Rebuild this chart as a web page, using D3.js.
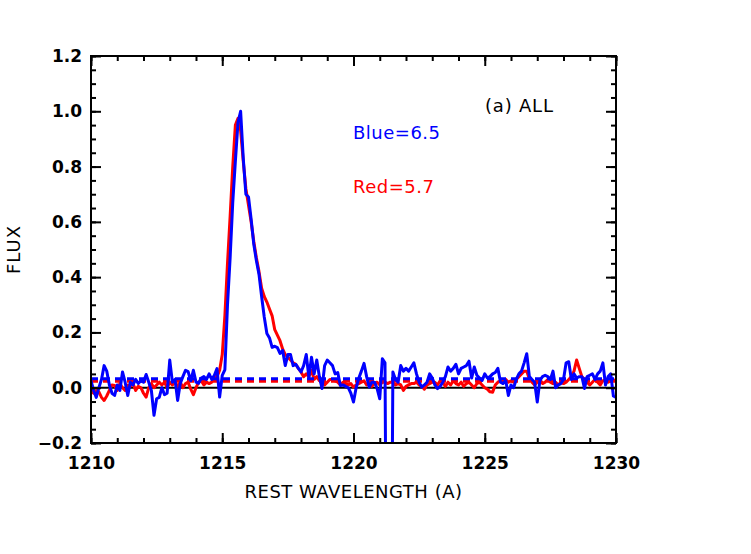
<!DOCTYPE html>
<html>
<head>
<meta charset="utf-8">
<script src="https://cdn.jsdelivr.net/npm/d3@7"></script>
<style>
  body { margin: 0; background: #fff; }
  text { font-family: "DejaVu Sans", sans-serif; }
</style>
</head>
<body>
<div id="chart"></div>
<script>
// wavelength grid of the stacked spectra (0.1 A sampling)
var wave = d3.range(0, 201).map(function(i) { return +(1210 + i * 0.1).toFixed(1); });

// blue sample, normalised flux
var blueFlux = [
  0.026, -0.01, -0.035, 0.0, 0.03, 0.08, 0.06, 0.01, -0.02, -0.028,
  0.01, -0.01, 0.057, 0.02, -0.028, 0.02, 0.01, 0.03, 0.015, 0.025,
  0.02, 0.048, 0.02, -0.01, -0.1, -0.04, -0.035, 0.0, -0.025, -0.02,
  0.1, 0.02, 0.03, -0.046, 0.015, 0.04, 0.063, 0.058, 0.025, 0.063,
  0.02, 0.016, 0.035, 0.04, 0.03, 0.05, 0.03, 0.045, 0.069, -0.034,
  0.045, 0.065, 0.3, 0.47, 0.67, 0.82, 0.96, 1.0, 0.83, 0.70,
  0.69, 0.61, 0.52, 0.46, 0.41, 0.33, 0.256, 0.196, 0.18, 0.146,
  0.15, 0.145, 0.124, 0.135, 0.08, 0.12, 0.12, 0.08, 0.085, 0.07,
  0.057, 0.08, 0.12, 0.038, 0.11, 0.05, 0.1, 0.04, -0.003, 0.08,
  0.1, 0.09, 0.08, 0.05, 0.055, 0.008, 0.01, 0.005, 0.0, -0.02,
  -0.052, 0.0, 0.034, 0.06, 0.088, 0.04, 0.002, 0.02, 0.02, -0.003,
  -0.04, 0.105, 0.09, -1.5, -1.5, 0.057, 0.03, 0.02, 0.08, 0.06,
  0.07, 0.06, 0.075, 0.09, 0.05, 0.02, 0.002, 0.01, 0.02, 0.05,
  0.035, 0.01, -0.003, 0.005, 0.02, 0.04, 0.075, 0.06, 0.07, 0.085,
  0.05, 0.07, 0.075, 0.08, 0.096, 0.035, 0.075, 0.045, 0.035, 0.026,
  0.05, 0.035, 0.04, 0.05, 0.055, 0.07, 0.02, 0.015, 0.026, -0.028,
  0.01, 0.0, 0.03, 0.05, 0.06, 0.09, 0.123, 0.04, 0.03, 0.02,
  -0.052, 0.026, 0.04, 0.045, 0.04, 0.03, 0.06, 0.0, 0.01, 0.015,
  0.03, 0.09, 0.094, 0.03, 0.05, 0.035, 0.04, 0.04, -0.003, 0.04,
  0.045, 0.05, 0.03, 0.05, 0.06, 0.09, 0.01, 0.04, 0.05, -0.03,
  -0.035
];

// red sample, normalised flux
var redFlux = [
  -0.01, -0.02, -0.01, -0.015, -0.035, -0.046, -0.03, -0.01, 0.01, 0.008,
  -0.01, 0.015, 0.0, -0.01, 0.01, 0.005, 0.015, -0.01, 0.005, 0.0,
  -0.02, -0.034, 0.0, 0.015, 0.0, 0.01, 0.02, 0.01, 0.02, 0.0,
  0.02, 0.01, 0.02, 0.005, 0.02, 0.0, 0.015, 0.02, -0.005, -0.025,
  0.0, 0.02, 0.025, 0.01, 0.02, 0.015, 0.02, 0.04, 0.04, 0.063,
  0.12, 0.26, 0.45, 0.62, 0.80, 0.95, 0.975, 0.93, 0.82, 0.72,
  0.66, 0.60, 0.53, 0.47, 0.42, 0.36, 0.33, 0.31, 0.285, 0.26,
  0.21, 0.19, 0.17, 0.14, 0.12, 0.11, 0.10, 0.09, 0.085, 0.07,
  0.057, 0.04, 0.05, 0.04, 0.063, 0.03, 0.04, 0.025, 0.03, 0.01,
  0.02, 0.03, 0.03, 0.025, 0.02, 0.01, 0.02, 0.015, 0.01, 0.015,
  0.002, 0.01, 0.015, 0.02, 0.025, 0.01, 0.02, 0.005, 0.015, 0.02,
  0.01, 0.02, 0.02, 0.015, 0.02, 0.02, 0.01, 0.015, 0.01, -0.01,
  0.005, 0.01, 0.015, 0.015, 0.02, 0.01, 0.005, -0.005, 0.01, 0.015,
  0.02, 0.02, 0.01, 0.025, 0.02, 0.005, 0.02, 0.01, 0.025, 0.015,
  0.01, 0.02, 0.005, 0.015, 0.02, 0.01, 0.0, 0.015, 0.02, 0.01,
  0.0, -0.005, -0.015, -0.016, 0.01, 0.02, 0.025, 0.02, 0.03, 0.02,
  0.025, 0.02, 0.03, 0.04, 0.05, 0.06, 0.06, 0.03, 0.02, 0.01,
  0.02, 0.03, 0.015, 0.02, 0.03, 0.02, 0.015, 0.02, 0.01, 0.02,
  0.015, 0.02, 0.03, 0.04, 0.06, 0.1, 0.07, 0.04, 0.03, 0.02,
  0.01, 0.02, 0.03, 0.02, 0.01, 0.025, 0.03, 0.02, 0.025, 0.03,
  0.02
];

// continuum levels (dashed)
var blueCont = 0.032, redCont = 0.023;

var xTicks = [1210, 1215, 1220, 1225, 1230];
var yTicks = [-0.2, 0.0, 0.2, 0.4, 0.6, 0.8, 1.0, 1.2];

var width = 751, height = 554;
var margin = {top: 56, right: 135, bottom: 111, left: 91};

var svg = d3.select("#chart").append("svg")
    .attr("width", width)
    .attr("height", height);

var x = d3.scaleLinear().domain([1210, 1230]).range([margin.left, width - margin.right]);
var y = d3.scaleLinear().domain([-0.2, 1.2]).range([height - margin.bottom, margin.top]);

svg.append("clipPath").attr("id", "clip")
  .append("rect")
    .attr("x", x(1210)).attr("y", y(1.2))
    .attr("width", x(1230) - x(1210)).attr("height", y(-0.2) - y(1.2));

var plot = svg.append("g").attr("clip-path", "url(#clip)");

// zero line
plot.append("line")
    .attr("x1", x(1210)).attr("x2", x(1230))
    .attr("y1", y(0)).attr("y2", y(0))
    .attr("stroke", "#000").attr("stroke-width", 2);

var line = d3.line()
    .x(function(d) { return x(d[0]); })
    .y(function(d) { return y(d[1]); });

var red = wave.map(function(w, i) { return [w, redFlux[i]]; });
var blue = wave.map(function(w, i) { return [w, blueFlux[i]]; });

plot.append("line")
    .attr("x1", x(1210)).attr("x2", x(1230))
    .attr("y1", y(redCont)).attr("y2", y(redCont))
    .attr("stroke", "#ff0000").attr("stroke-width", 3)
    .attr("stroke-dasharray", "7,5");

plot.append("path").datum(red)
    .attr("d", line)
    .attr("fill", "none").attr("stroke", "#ff0000")
    .attr("stroke-width", 3).attr("stroke-linejoin", "round");

plot.append("line")
    .attr("x1", x(1210)).attr("x2", x(1230))
    .attr("y1", y(blueCont)).attr("y2", y(blueCont))
    .attr("stroke", "#0000ff").attr("stroke-width", 3)
    .attr("stroke-dasharray", "7,5");

plot.append("path").datum(blue)
    .attr("d", line)
    .attr("fill", "none").attr("stroke", "#0000ff")
    .attr("stroke-width", 3).attr("stroke-linejoin", "round");

// axes: IDL style, ticks inside on all four sides
var xMinor = d3.range(1210, 1231, 1);
var yMinor = d3.range(-0.2, 1.2001, 0.05);

function axisStyle(g) {
  g.select(".domain").remove();
  g.selectAll(".tick line").attr("stroke", "#000").attr("stroke-width", 2);
}

svg.append("g")
    .attr("transform", "translate(0," + y(-0.2) + ")")
    .call(d3.axisBottom(x).tickValues(xMinor).tickSize(-5).tickFormat(""))
    .call(axisStyle);
svg.append("g")
    .attr("transform", "translate(0," + y(-0.2) + ")")
    .call(d3.axisBottom(x).tickValues(xTicks).tickSize(-10).tickPadding(14).tickFormat(d3.format("d")))
    .call(axisStyle)
    .selectAll("text").attr("font-size", 17).attr("fill", "#000").attr("font-weight", "bold");
svg.append("g")
    .attr("transform", "translate(0," + y(1.2) + ")")
    .call(d3.axisTop(x).tickValues(xMinor).tickSize(-5).tickFormat(""))
    .call(axisStyle);
svg.append("g")
    .attr("transform", "translate(0," + y(1.2) + ")")
    .call(d3.axisTop(x).tickValues(xTicks).tickSize(-10).tickFormat(""))
    .call(axisStyle);

svg.append("g")
    .attr("transform", "translate(" + x(1210) + ",0)")
    .call(d3.axisLeft(y).tickValues(yMinor).tickSize(-5).tickFormat(""))
    .call(axisStyle);
svg.append("g")
    .attr("transform", "translate(" + x(1210) + ",0)")
    .call(d3.axisLeft(y).tickValues(yTicks).tickSize(-10).tickPadding(9).tickFormat(d3.format(".1f")))
    .call(axisStyle)
    .selectAll("text").attr("font-size", 17).attr("fill", "#000").attr("font-weight", "bold");
svg.append("g")
    .attr("transform", "translate(" + x(1230) + ",0)")
    .call(d3.axisRight(y).tickValues(yMinor).tickSize(-5).tickFormat(""))
    .call(axisStyle);
svg.append("g")
    .attr("transform", "translate(" + x(1230) + ",0)")
    .call(d3.axisRight(y).tickValues(yTicks).tickSize(-10).tickFormat(""))
    .call(axisStyle);

// frame
svg.append("rect")
    .attr("x", x(1210)).attr("y", y(1.2))
    .attr("width", x(1230) - x(1210)).attr("height", y(-0.2) - y(1.2))
    .attr("fill", "none").attr("stroke", "#000").attr("stroke-width", 2);

// titles
svg.append("text")
    .attr("x", (x(1210) + x(1230)) / 2).attr("y", 498)
    .attr("text-anchor", "middle").attr("font-size", 18)
    .attr("letter-spacing", 0.5)
    .text("REST WAVELENGTH (A)");

svg.append("text")
    .attr("transform", "translate(20," + (y(-0.2) + y(1.2)) / 2 + ") rotate(-90)")
    .attr("text-anchor", "middle").attr("font-size", 18)
    .attr("letter-spacing", 1)
    .text("FLUX");

svg.append("text")
    .attr("x", 485).attr("y", 112)
    .attr("font-size", 18).attr("fill", "#000").attr("letter-spacing", 0.8)
    .text("(a) ALL");
svg.append("text")
    .attr("x", 353).attr("y", 139)
    .attr("font-size", 18).attr("fill", "#0000ff").attr("letter-spacing", 0.5)
    .text("Blue=6.5");
svg.append("text")
    .attr("x", 353).attr("y", 193)
    .attr("font-size", 18).attr("fill", "#ff0000").attr("letter-spacing", 0.5)
    .text("Red=5.7");
</script>
</body>
</html>
